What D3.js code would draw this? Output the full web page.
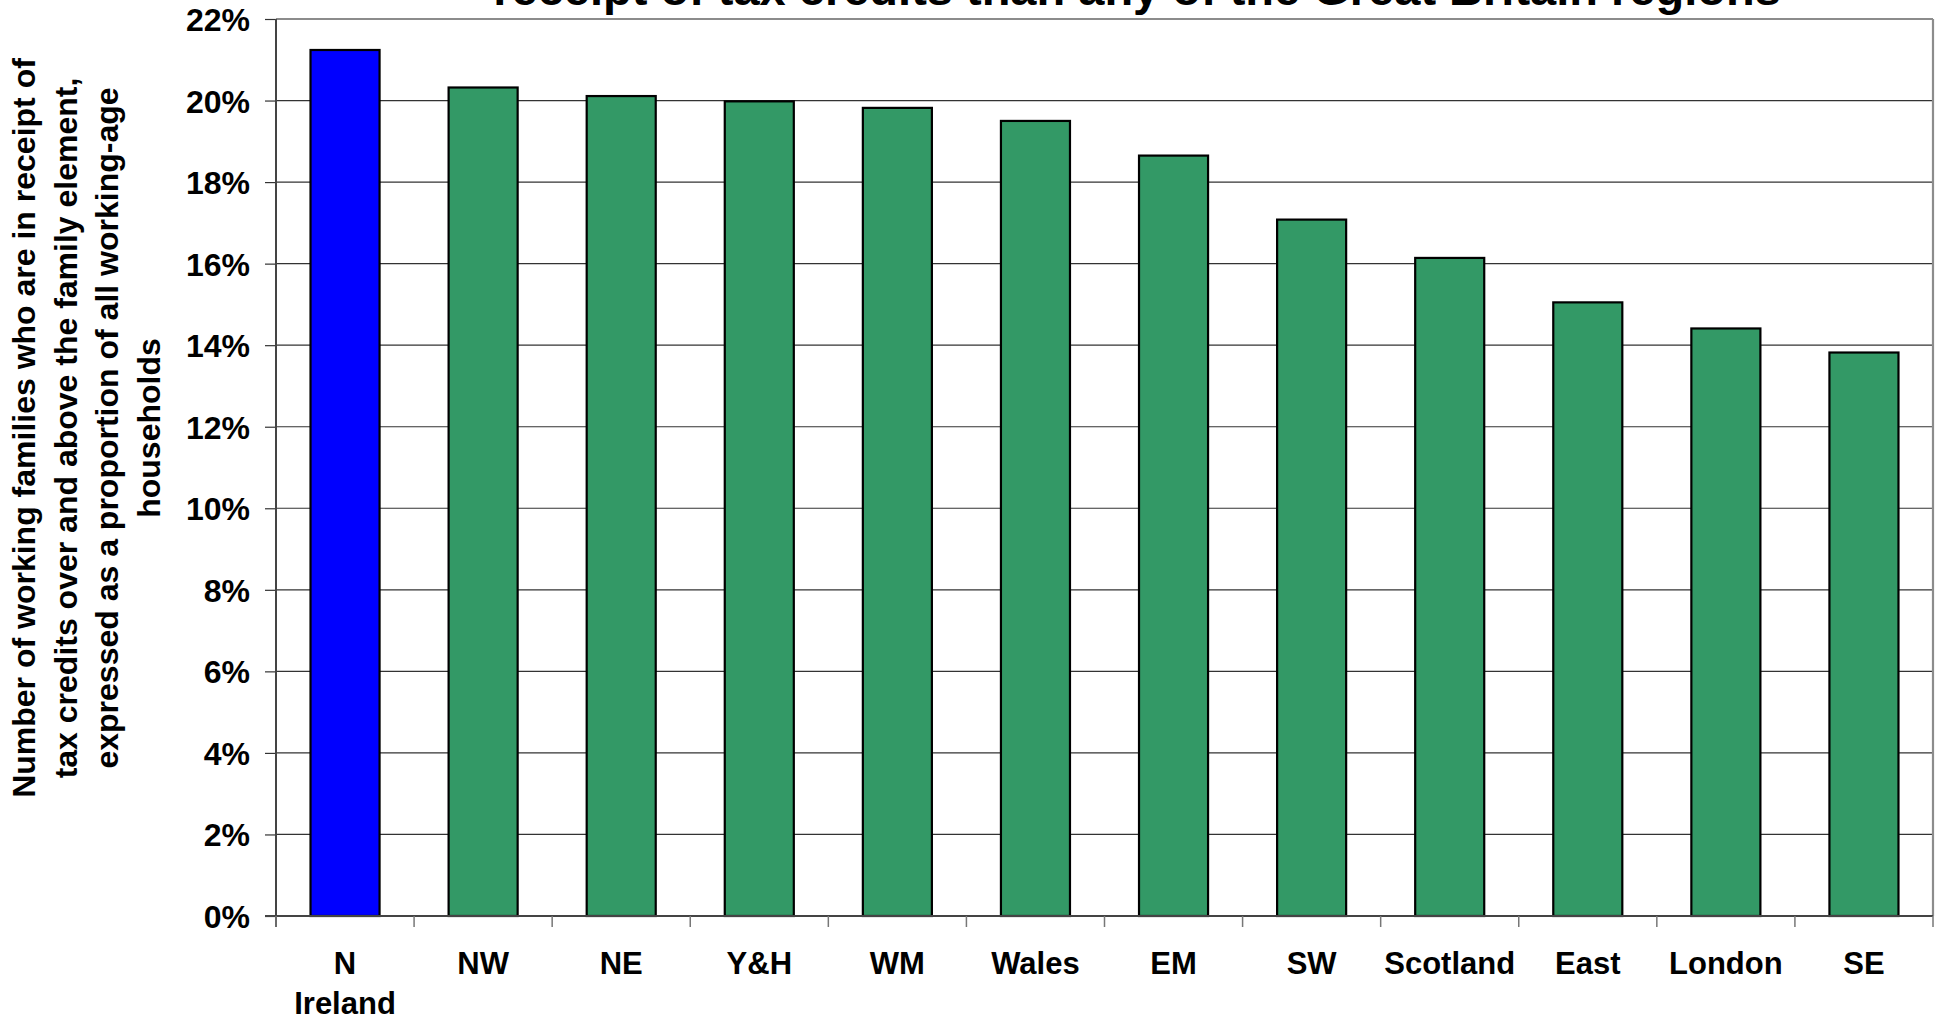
<!DOCTYPE html>
<html>
<head>
<meta charset="utf-8">
<script src="https://cdn.jsdelivr.net/npm/d3@7"></script>
<style>
  html, body { margin: 0; padding: 0; background: #fff; }
  svg { display: block; }
  text { font-family: "Liberation Sans", Arial, sans-serif; font-weight: bold; fill: #000; }
</style>
</head>
<body>
<svg id="chart" width="1935" height="1019"></svg>
<script>
const categories = ["N Ireland", "NW", "NE", "Y&H", "WM", "Wales", "EM", "SW", "Scotland", "East", "London", "SE"];
const values = [0.2124, 0.2032, 0.2011, 0.1998, 0.1982, 0.1950, 0.1865, 0.1708, 0.1614, 0.1505, 0.1441, 0.1382];
const barColors = ["#0000FF", "#339966", "#339966", "#339966", "#339966", "#339966", "#339966", "#339966", "#339966", "#339966", "#339966", "#339966"];
const yTicks = [0, 0.02, 0.04, 0.06, 0.08, 0.10, 0.12, 0.14, 0.16, 0.18, 0.20, 0.22];
const titleText = "receipt of tax credits than any of the Great Britain regions";
const yTitleLines = [
  "Number of working families who are in receipt of",
  "tax credits over and above the family element,",
  "expressed as a proportion of all working-age",
  "households"
];

const svg = d3.select("#chart");
const plotLeft = 276, plotRight = 1933, plotTop = 19, plotBottom = 916;

const x = d3.scaleBand().domain(categories).range([plotLeft, plotRight]).paddingInner(0.5).paddingOuter(0.25);
const y = d3.scaleLinear().domain([0, 0.22]).range([plotBottom, plotTop]);

// gridlines
svg.append("g").selectAll("line")
  .data(yTicks.filter(d => d > 0 && d < 0.22))
  .join("line")
  .attr("x1", plotLeft).attr("x2", plotRight)
  .attr("y1", d => y(d)).attr("y2", d => y(d))
  .attr("stroke", "#333").attr("stroke-width", 1.2);

// plot-area border (top & right)
svg.append("line").attr("x1", plotLeft).attr("x2", plotRight).attr("y1", y(0.22)).attr("y2", y(0.22))
  .attr("stroke", "#8c8c8c").attr("stroke-width", 2.2);
svg.append("line").attr("x1", plotRight).attr("x2", plotRight).attr("y1", y(0.22)).attr("y2", y(0))
  .attr("stroke", "#8c8c8c").attr("stroke-width", 2.2);

// bars
svg.append("g").selectAll("rect")
  .data(categories)
  .join("rect")
  .attr("x", d => x(d))
  .attr("width", x.bandwidth())
  .attr("y", (d, i) => y(values[i]))
  .attr("height", (d, i) => y(0) - y(values[i]))
  .attr("fill", (d, i) => barColors[i])
  .attr("stroke", "#000").attr("stroke-width", 2.2);

// y axis
const yAxis = svg.append("g").attr("transform", `translate(${plotLeft},0)`)
  .call(d3.axisLeft(y).tickValues(yTicks).tickFormat(d3.format(".0%")).tickSize(11).tickPadding(15));
yAxis.select(".domain").remove();
yAxis.selectAll(".tick line").attr("stroke", "#333").attr("stroke-width", 1.2);
yAxis.selectAll(".tick text").style("font-size", "32px").style("font-family", "'Liberation Sans', Arial, sans-serif")
  .style("font-weight", "bold").attr("fill", "#000").attr("dy", "0.36em");
svg.append("line").attr("x1", plotLeft).attr("x2", plotLeft).attr("y1", y(0.22)).attr("y2", y(0) + 11)
  .attr("stroke", "#444").attr("stroke-width", 2);

// x axis
svg.append("line").attr("x1", plotLeft - 11).attr("x2", plotRight).attr("y1", y(0)).attr("y2", y(0))
  .attr("stroke", "#444").attr("stroke-width", 2);
const step = x.step();
svg.append("g").selectAll("line")
  .data(categories.concat([null]))
  .join("line")
  .attr("x1", d => d ? x(d) - step * x.paddingOuter() : plotRight)
  .attr("x2", d => d ? x(d) - step * x.paddingOuter() : plotRight)
  .attr("y1", y(0)).attr("y2", y(0) + 11)
  .attr("stroke", "#777").attr("stroke-width", 1.5);

const labels = svg.append("g").selectAll("text")
  .data(categories)
  .join("text")
  .attr("x", d => x(d) + x.bandwidth() / 2)
  .attr("y", 974)
  .attr("text-anchor", "middle")
  .style("font-size", "31px")
  .text(d => d);
labels.each(function(d) {
  const t = d3.select(this);
  if (d.includes(" ") && this.getComputedTextLength() > step * 0.85) {
    const words = d.split(" ");
    t.text(null);
    words.forEach((w, i) => {
      t.append("tspan").attr("x", x(d) + x.bandwidth() / 2).attr("dy", i === 0 ? 0 : 40).text(w);
    });
  }
});

// y axis title
const yt = svg.append("text")
  .attr("transform", "translate(35,428) rotate(-90)")
  .attr("text-anchor", "middle")
  .style("font-size", "32px");
yTitleLines.forEach((l, i) => {
  yt.append("tspan").attr("x", 0).attr("y", i * 41.5).text(l);
});

// chart title (only its lower line is visible)
svg.append("text")
  .attr("x", 1137).attr("y", 5)
  .attr("text-anchor", "middle")
  .style("font-size", "47px")
  .text(titleText);
</script>
</body>
</html>
